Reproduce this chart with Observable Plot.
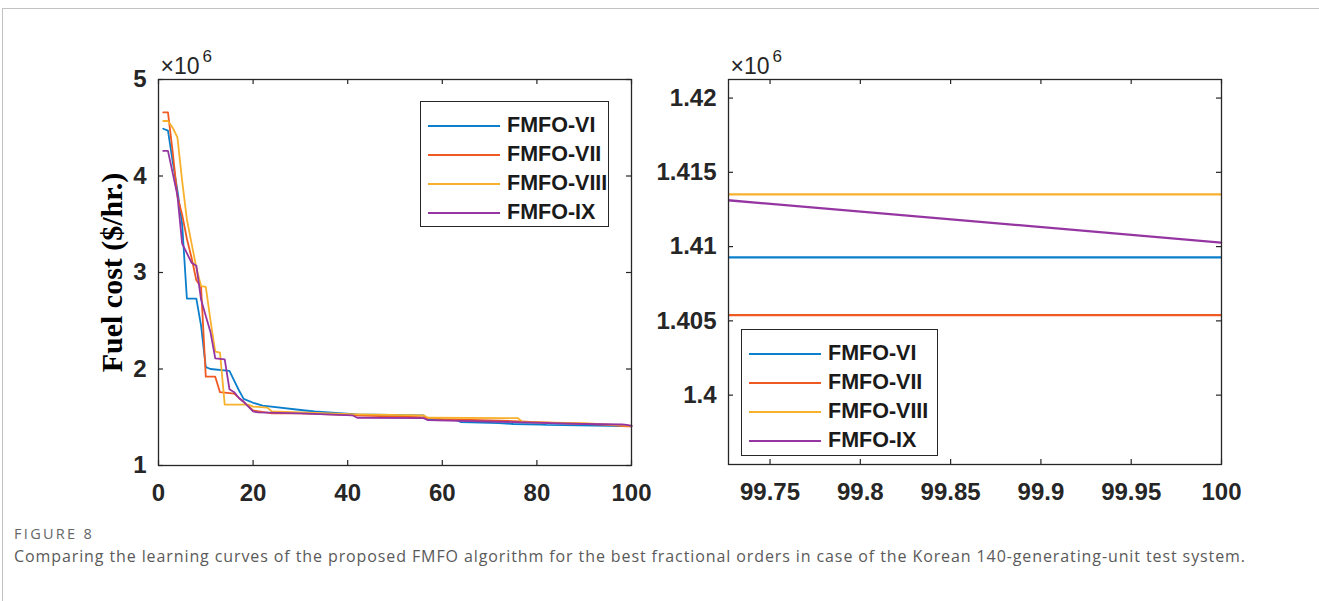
<!DOCTYPE html>
<html>
<head>
<meta charset="utf-8">
<script src="https://cdn.jsdelivr.net/npm/d3@7"></script>
<script src="https://cdn.jsdelivr.net/npm/@observablehq/plot@0.6"></script>
<style>
  html, body { margin: 0; padding: 0; background: #fff; }
  body { width: 1319px; height: 601px; overflow: hidden; position: relative; }
  #border { position: absolute; left: 2px; top: 8px; width: 1400px; height: 700px;
            border-left: 1px solid #c2c2c2; border-top: 1px solid #c2c2c2; }
  .plotbox { position: absolute; }
  .legend { position: absolute; border: 1.3px solid #262626; background: #fff;
            font-family: "Liberation Sans", Arial, sans-serif; font-weight: bold;
            font-size: 21.5px; color: #1a1a1a; box-sizing: border-box; }
  .legend .row { position: absolute; left: 0; height: 29px; display: flex; align-items: center; }
  .legend .sw { display: inline-block; width: 72px; height: 0; border-top: 2px solid; margin-left: 7px; margin-right: 7px; }
  #figlabel { position: absolute; left: 14px; top: 524px; font-family: "Open Sans", "Noto Sans", sans-serif;
              font-size: 14.5px; line-height: 19px; color: #666; letter-spacing: 2.3px; }
  #caption { position: absolute; left: 14px; top: 545px; font-family: "Open Sans", "Noto Sans", sans-serif;
             font-size: 16px; line-height: 22px; color: #5a5a5a; white-space: nowrap; letter-spacing: 0.9px; }
</style>
</head>
<body>
<div id="border"></div>
<div id="left" class="plotbox" style="left:0px;top:0px;"></div>
<div id="right" class="plotbox" style="left:570px;top:0px;"></div>
<div id="legendL" class="legend" style="left:420px;top:101px;width:189px;height:126px;"></div>
<div id="legendR" class="legend" style="left:741px;top:329px;width:197px;height:127px;"></div>
<div id="figlabel">FIGURE 8</div>
<div id="caption">Comparing the learning curves of the proposed FMFO algorithm for the best fractional orders in case of the Korean 140-generating-unit test system.</div>
<script>
// ---- Data (fuel cost in units of 10^6 $/hr.) ----
const seriesNames = ["FMFO-VI", "FMFO-VII", "FMFO-VIII", "FMFO-IX"];
const seriesColors = ["#0b7fcc", "#ef5a22", "#f8b12c", "#9535a2"];

const iterVI  = [1, 2, 3, 4, 5, 6, 8, 9, 10, 11, 15, 16, 17, 18, 20, 22, 31, 33, 42, 56, 57, 63, 64, 72, 75, 81, 82, 99, 100];
const costVI  = [4.49, 4.47, 4.15, 3.85, 3.5, 2.73, 2.73, 2.45, 2.02, 2.0, 1.98, 1.88, 1.78, 1.69, 1.65, 1.62, 1.57, 1.56, 1.53, 1.52, 1.48, 1.47, 1.45, 1.44, 1.43, 1.425, 1.42, 1.40927, 1.40927];

const iterVII = [1, 2, 3, 4, 5, 6, 7, 8, 9, 10, 12, 13, 16, 17, 18, 20, 24, 30, 42, 55, 60, 75, 85, 95, 99, 100];
const costVII = [4.66, 4.66, 4.25, 3.79, 3.6, 3.35, 3.15, 2.92, 2.85, 1.92, 1.92, 1.76, 1.745, 1.70, 1.66, 1.57, 1.54, 1.54, 1.52, 1.50, 1.48, 1.46, 1.44, 1.42, 1.40538, 1.40538];

const iterVIII = [1, 2, 3, 4, 5, 6, 7, 8, 9, 10, 11, 12, 13, 14, 19, 20, 23, 24, 30, 42, 56, 57, 76, 77, 90, 99, 100];
const costVIII = [4.57, 4.57, 4.5, 4.4, 3.95, 3.55, 3.3, 3.05, 2.86, 2.85, 2.5, 2.18, 2.17, 1.63, 1.63, 1.61, 1.60, 1.56, 1.55, 1.53, 1.52, 1.495, 1.49, 1.45, 1.44, 1.41352, 1.41352];

const iterIX  = [1, 2, 3, 4, 5, 6, 7, 8, 9, 10, 11, 12, 14, 15, 16, 17, 18, 20, 21, 30, 41, 42, 56, 57, 75, 90, 98, 99, 100];
const costIX  = [4.26, 4.26, 4.03, 3.8, 3.3, 3.2, 3.1, 3.07, 2.72, 2.55, 2.38, 2.11, 2.1, 1.79, 1.76, 1.70, 1.66, 1.56, 1.55, 1.54, 1.52, 1.495, 1.49, 1.47, 1.45, 1.43, 1.425, 1.4207, 1.41027];

const leftXTicks  = [0, 20, 40, 60, 80, 100];
const leftYTicks  = [1, 2, 3, 4, 5];
const rightXTicks = [99.75, 99.8, 99.85, 99.9, 99.95, 100];
const rightYTicks = [1.4, 1.405, 1.41, 1.415, 1.42];
const expLabel = "×10";
const expPower = "6";
const yLabel = "Fuel cost ($/hr.)";

const iters = [iterVI, iterVII, iterVIII, iterIX];
const costs = [costVI, costVII, costVIII, costIX];
const rows = seriesNames.flatMap((name, i) =>
  iters[i].map((it, j) => ({series: name, iter: it, cost: costs[i][j]})));

const axisColor = "#262626";
const fmt = d3.format("~g");

function panel({width, height, margin, xDomain, yDomain, xTicks, yTicks, withYLabel, lineWidth, clip}) {
  const plotW = width - margin.left - margin.right;
  const plotH = height - margin.top - margin.bottom;
  const tk = 5;
  const marks = [
    Plot.line(rows, {x: "iter", y: "cost", z: "series", stroke: "series", strokeWidth: lineWidth, clip}),
    Plot.frame({stroke: axisColor, strokeWidth: 1.3}),
    // inward ticks on all four sides
    Plot.tickX(xTicks, {x: d => d, insetTop: plotH - tk, stroke: axisColor, strokeWidth: 1.2}),
    Plot.tickX(xTicks, {x: d => d, insetBottom: plotH - tk, stroke: axisColor, strokeWidth: 1.2}),
    Plot.tickY(yTicks, {y: d => d, insetRight: plotW - tk, stroke: axisColor, strokeWidth: 1.2}),
    Plot.tickY(yTicks, {y: d => d, insetLeft: plotW - tk, stroke: axisColor, strokeWidth: 1.2}),
    Plot.axisX(xTicks, {anchor: "bottom", tickSize: 0, tickPadding: 18, tickFormat: fmt, label: null,
      fill: axisColor, fontSize: 24, fontWeight: "bold"}),
    Plot.axisY(yTicks, {anchor: "left", tickSize: 0, tickPadding: 12, tickFormat: fmt, label: null,
      fill: axisColor, fontSize: 24, fontWeight: "bold"}),
    Plot.text([expLabel], {text: d => d, frameAnchor: "top-left", textAnchor: "start", lineAnchor: "bottom",
      dx: 2, dy: -6, fontSize: 23, fontWeight: "normal", fill: axisColor}),
    Plot.text([expPower], {text: d => d, frameAnchor: "top-left", textAnchor: "start", lineAnchor: "bottom",
      dx: 44, dy: -18, fontSize: 17, fontWeight: "normal", fill: axisColor})
  ];
  if (withYLabel) {
    marks.push(Plot.text([yLabel], {text: d => d, frameAnchor: "left", textAnchor: "middle", lineAnchor: "middle",
      rotate: -90, dx: -46, fontSize: 30, fontWeight: "bold",
      fontFamily: "'Liberation Serif', 'Times New Roman', serif", fill: "#000"}));
  }
  return Plot.plot({
    width, height,
    marginTop: margin.top, marginRight: margin.right, marginBottom: margin.bottom, marginLeft: margin.left,
    x: {domain: xDomain},
    y: {domain: yDomain},
    color: {domain: seriesNames, range: seriesColors},
    style: {fontFamily: "'Liberation Sans', Arial, sans-serif", fontSize: "24px", fontWeight: "bold",
            background: "transparent", overflow: "visible"},
    marks
  });
}

document.getElementById("left").appendChild(panel({
  width: 660, height: 520, margin: {top: 79, right: 29, bottom: 55, left: 158},
  xDomain: [0, 100], yDomain: [1, 5], xTicks: leftXTicks, yTicks: leftYTicks,
  withYLabel: true, lineWidth: 1.8, clip: false
}));

document.getElementById("right").appendChild(panel({
  width: 700, height: 520, margin: {top: 79, right: 49, bottom: 56, left: 158},
  xDomain: [99.727, 100], yDomain: [1.39533, 1.42125], xTicks: rightXTicks, yTicks: rightYTicks,
  withYLabel: false, lineWidth: 2.3, clip: true
}));

function legend(el) {
  const offsets = [9, 38, 67, 96];
  seriesNames.forEach((name, i) => {
    const r = document.createElement("div");
    r.className = "row";
    r.style.top = offsets[i] + "px";
    const sw = document.createElement("span");
    sw.className = "sw";
    sw.style.borderTopColor = seriesColors[i];
    const t = document.createElement("span");
    t.textContent = name;
    r.appendChild(sw); r.appendChild(t);
    el.appendChild(r);
  });
}
legend(document.getElementById("legendL"));
legend(document.getElementById("legendR"));
</script>
</body>
</html>
